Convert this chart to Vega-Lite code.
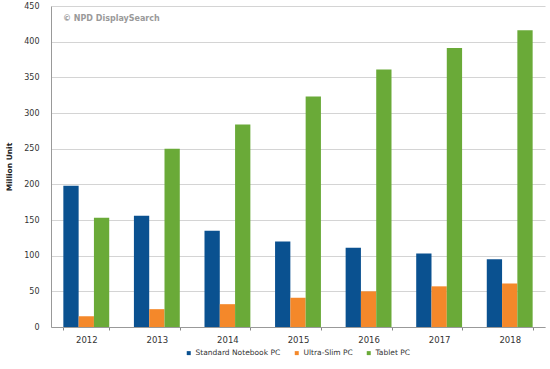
{
  "$schema": "https://vega.github.io/schema/vega-lite/v6.json",
  "width": 494,
  "height": 321,
  "autosize": {"type": "none"},
  "padding": {"left": 51, "top": 6, "right": 5, "bottom": 42},
  "background": "white",
  "title": {"text": "© NPD DisplaySearch", "anchor": "start", "frame": "group", "orient": "top", "offset": -21, "dx": 12, "fontSize": 8, "font": "DejaVu Sans", "fontWeight": "bold", "color": "#9a9a9a"},
  "data": {"values": [
    {"year": "2012", "type": "Standard Notebook PC", "value": 198},
    {"year": "2012", "type": "Ultra-Slim PC", "value": 15},
    {"year": "2012", "type": "Tablet PC", "value": 153},
    {"year": "2013", "type": "Standard Notebook PC", "value": 156},
    {"year": "2013", "type": "Ultra-Slim PC", "value": 25},
    {"year": "2013", "type": "Tablet PC", "value": 250},
    {"year": "2014", "type": "Standard Notebook PC", "value": 135},
    {"year": "2014", "type": "Ultra-Slim PC", "value": 32},
    {"year": "2014", "type": "Tablet PC", "value": 284},
    {"year": "2015", "type": "Standard Notebook PC", "value": 120},
    {"year": "2015", "type": "Ultra-Slim PC", "value": 41},
    {"year": "2015", "type": "Tablet PC", "value": 323},
    {"year": "2016", "type": "Standard Notebook PC", "value": 111},
    {"year": "2016", "type": "Ultra-Slim PC", "value": 50},
    {"year": "2016", "type": "Tablet PC", "value": 361},
    {"year": "2017", "type": "Standard Notebook PC", "value": 103},
    {"year": "2017", "type": "Ultra-Slim PC", "value": 57},
    {"year": "2017", "type": "Tablet PC", "value": 391},
    {"year": "2018", "type": "Standard Notebook PC", "value": 95},
    {"year": "2018", "type": "Ultra-Slim PC", "value": 61},
    {"year": "2018", "type": "Tablet PC", "value": 416}
  ]},
  "mark": {"type": "bar"},
  "encoding": {
    "x": {"field": "year", "type": "nominal", "sort": null,
      "scale": {"paddingInner": 0.35, "paddingOuter": 0.175},
      "axis": {"title": null, "labelAngle": 0, "labelFont": "DejaVu Sans", "labelFontSize": 8.5, "labelColor": "#333", "labelPadding": 5, "tickBand": "extent", "tickSize": 3, "tickColor": "#888", "domainColor": "#999", "grid": false}},
    "xOffset": {"field": "type", "type": "nominal", "sort": ["Standard Notebook PC", "Ultra-Slim PC", "Tablet PC"], "scale": {"paddingInner": 0, "paddingOuter": 0}},
    "y": {"field": "value", "type": "quantitative",
      "scale": {"domain": [0, 450]},
      "axis": {"title": "Million Unit", "titleFont": "DejaVu Sans", "titleFontSize": 7.5, "titleFontWeight": "bold", "titleColor": "#222", "titlePadding": 10,
        "values": [0, 50, 100, 150, 200, 250, 300, 350, 400, 450],
        "labelFont": "DejaVu Sans", "labelFontSize": 8, "labelColor": "#333", "labelPadding": 12, "ticks": false,
        "domainColor": "#999", "gridColor": "#d4d4d4", "gridWidth": 1.2}},
    "color": {"field": "type", "type": "nominal",
      "sort": ["Standard Notebook PC", "Ultra-Slim PC", "Tablet PC"],
      "scale": {"domain": ["Standard Notebook PC", "Ultra-Slim PC", "Tablet PC"], "range": ["#0a5190", "#f4882a", "#6aaa38"]},
      "legend": {"title": null, "orient": "none", "direction": "horizontal", "legendX": 134, "legendY": 343,
        "symbolType": "square", "symbolSize": 16, "labelFont": "DejaVu Sans", "labelFontSize": 7.5, "labelColor": "#333", "labelOffset": 3, "columnPadding": 12}}
  },
  "config": {"view": {"stroke": null}}
}
